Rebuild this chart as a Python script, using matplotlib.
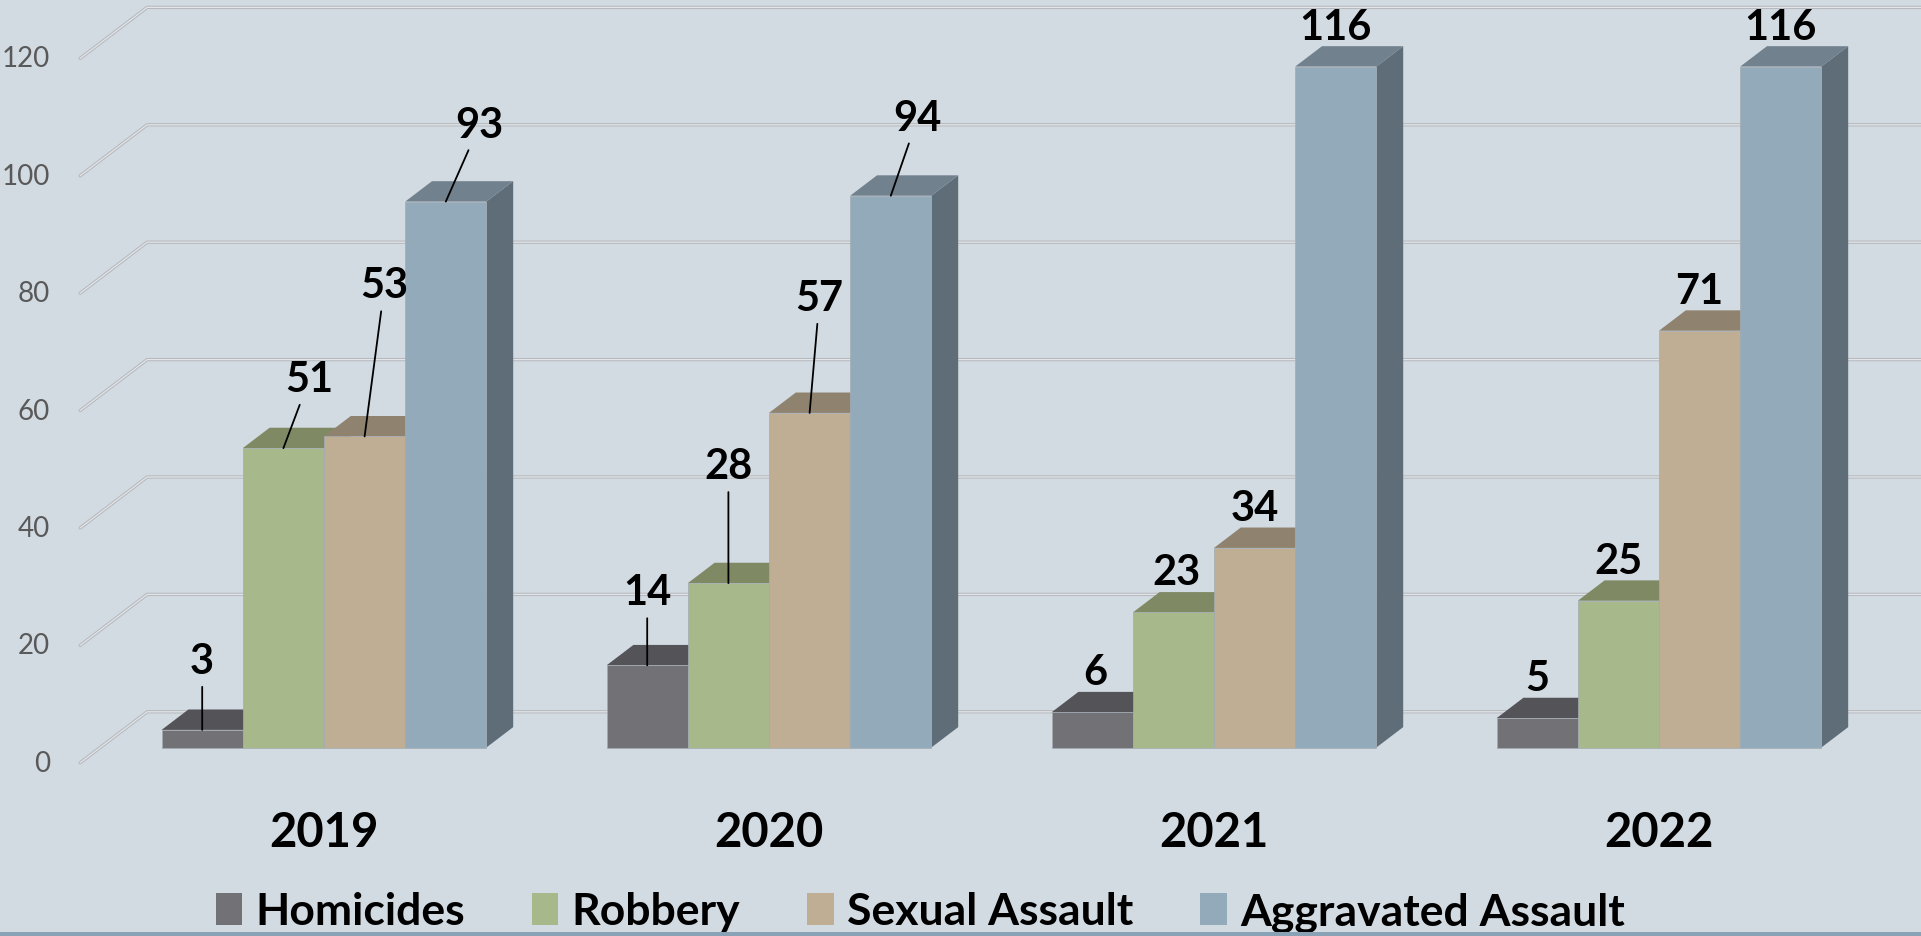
import matplotlib
matplotlib.use('Agg')
import matplotlib.pyplot as plt
from matplotlib.patches import Polygon, Patch, Rectangle

plt.rcParams['font.family'] = ['Lato', 'DejaVu Sans']

years = ['2019', '2020', '2021', '2022']
series = ['Homicides', 'Robbery', 'Sexual Assault', 'Aggravated Assault']
homicides = [3, 14, 6, 5]
robbery = [51, 28, 23, 25]
sexual_assault = [53, 57, 34, 71]
aggravated_assault = [93, 94, 116, 116]
yticks = [0, 20, 40, 60, 80, 100, 120]

values = [homicides, robbery, sexual_assault, aggravated_assault]
front_cols = ['#727176', '#a7b88a', '#bfae94', '#93aabb']
top_cols = ['#545358', '#7f8a65', '#8f836f', '#71818e']
side_cols = ['#4f4e53', '#6e7858', '#7c7262', '#5e6d78']
bg = '#d3dbe2'

# label offsets in pixels (value labels were dragged in 2019/2020)
label_off = [
    [(0, 69), (26, 69), (20, 151), (34, 77)],
    [(0, 73), (0, 117), (10, 115), (27, 78)],
    [(3, 40), (3, 40), (0, 40), (0, 40)],
    [(0, 40), (0, 40), (0, 40), (0, 40)],
]
leader = [True, True, False, False]

# pseudo 3d geometry (x in group units, y in value units)
PX_X = 445.0
PX_Y = 5.87
DX = 67 / PX_X
DY = 51 / PX_Y
D0, D1 = 0.3, 0.7
W = 81.2 / PX_X


def proj(x, v, d):
    return x + (d - D0) * DX, v + (d - D0) * DY


fig = plt.figure(figsize=(19.21, 9.37), dpi=100, facecolor=bg)
ax = fig.add_axes([0, 0, 1, 1])
ax.set_facecolor(bg)
ax.set_xlim(-324 / PX_X, (1921 - 324) / PX_X)
ax.set_ylim((748.5 - 937) / PX_Y, 748.5 / PX_Y)
ax.axis('off')

# back wall gridlines
x_left = -0.548 + D0 * DX
for t in yticks:
    p0 = proj(x_left, t, 0)
    p1 = proj(x_left, t, 1)
    xs = [p0[0], p1[0], 5]
    ys = [p0[1], p1[1], p1[1]]
    ax.plot(xs, ys, color='#b5b9be', lw=2.4, zorder=1, solid_capstyle='round')
    ax.plot(xs, ys, color='#e2e6e9', lw=0.9, zorder=1.1, solid_capstyle='round')
    ax.annotate(str(t), xy=p0, xytext=(-30, 0), textcoords='offset pixels',
                ha='right', va='center', fontsize=20, color='#595959')

z = 2
for g, yr in enumerate(years):
    for s in range(len(series)):
        v = values[s][g]
        x0 = g - 2 * W + s * W
        x1 = x0 + W
        side = [proj(x1, 0, D0), proj(x1, v, D0), proj(x1, v, D1), proj(x1, 0, D1)]
        top = [proj(x0, v, D0), proj(x1, v, D0), proj(x1, v, D1), proj(x0, v, D1)]
        ax.add_patch(Polygon(side, closed=True, facecolor=side_cols[s], edgecolor='none', zorder=z))
        ax.add_patch(Polygon(top, closed=True, facecolor=top_cols[s], edgecolor='none', zorder=z + 0.1))
        ax.bar(x0, v, width=W, align='edge', color=front_cols[s], edgecolor='#a3acb4',
               linewidth=0.5, zorder=z + 0.2)
        z += 1

    for s in range(len(series)):
        v = values[s][g]
        xc = g - 2 * W + (s + 0.5) * W
        arrow = dict(arrowstyle='-', color='black', lw=1.3, shrinkA=3, shrinkB=0) if leader[g] else None
        ax.annotate(str(v), xy=(xc, v), xytext=label_off[g][s], textcoords='offset pixels',
                    ha='center', va='center', fontsize=30, fontweight='bold', color='black',
                    arrowprops=arrow, zorder=100)

    ax.annotate(yr, xy=(g, 0), xytext=(0, -85), textcoords='offset pixels',
                ha='center', va='center', fontsize=34, fontweight='bold', color='black')

handles = [Patch(facecolor=c, edgecolor='none') for c in front_cols]
fig.legend(handles, series, loc='center', bbox_to_anchor=(0.479, 0.026), ncol=4,
           frameon=False, prop={'weight': 'bold', 'size': 32}, handlelength=0.6,
           handleheight=0.72, handletextpad=0.3, columnspacing=1.5)

fig.patches.append(Rectangle((0, 0), 1, 0.004, transform=fig.transFigure,
                             facecolor='#8aa2b6', edgecolor='none', zorder=10))

fig.savefig('out.png', dpi=100, facecolor=bg)
